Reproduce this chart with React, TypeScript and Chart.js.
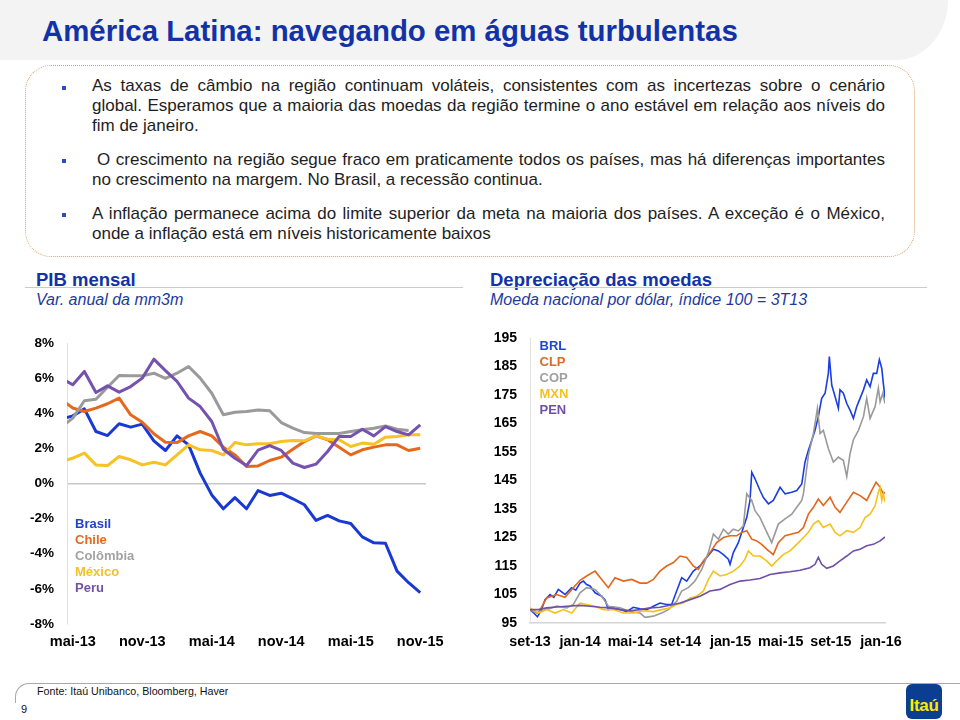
import React, { useEffect, useRef } from 'react';
import { Chart, registerables } from 'chart.js';

Chart.register(...registerables);

const FONT = '"Liberation Sans", Arial, Helvetica, sans-serif';

// ---------------- PIB mensal (left chart) ----------------
const PIB_TICK_LABELS = ['mai-13', 'nov-13', 'mai-14', 'nov-14', 'mai-15', 'nov-15'];
const PIB_TICK_MONTHS = [0, 6, 12, 18, 24, 30]; // months after mai-13
const PIB_FIRST_MONTH = -1; // first value of every series is abr-13
const PIB_X_MIN = -0.5;
const PIB_X_MAX = 30.5;
const PIB_Y_MIN = -8;
const PIB_Y_MAX = 8;
const PIB_Y_STEP = 2;

const pibBrasil = [3.67, 3.85, 4.25, 2.96, 2.73, 3.4, 3.21, 3.38, 2.43, 1.88, 2.71, 2.2, 0.59, -0.65, -1.44, -0.8, -1.44, -0.4, -0.68, -0.55, -0.87, -1.21, -2.1, -1.82, -2.13, -2.28, -3.04, -3.38, -3.4, -4.99, -5.65, -6.22];
const pibChile = [4.78, 4.3, 4.1, 4.29, 4.54, 4.86, 3.91, 3.49, 2.83, 2.35, 2.33, 2.71, 2.96, 2.71, 2.07, 1.63, 0.97, 1.0, 1.31, 1.5, 1.95, 2.39, 2.71, 2.49, 2.07, 1.63, 1.92, 2.07, 2.2, 2.2, 1.88, 2.01];
const pibColombia = [3.22, 3.72, 4.71, 4.8, 5.48, 6.15, 6.13, 6.13, 6.28, 5.98, 6.28, 6.66, 6.0, 5.14, 3.91, 4.06, 4.1, 4.19, 4.14, 3.47, 3.15, 2.9, 2.85, 2.85, 2.85, 2.96, 3.06, 3.15, 3.28, 3.09, 3.02];
const pibMexico = [1.26, 1.44, 1.73, 1.06, 1.02, 1.54, 1.35, 1.06, 1.21, 1.06, 1.63, 2.2, 1.92, 1.88, 1.63, 2.33, 2.2, 2.26, 2.26, 2.39, 2.45, 2.43, 2.71, 2.52, 2.49, 2.11, 2.3, 2.24, 2.64, 2.68, 2.77, 2.77];
const pibPeru = [6.0, 5.62, 6.38, 5.18, 5.56, 5.2, 5.52, 6.0, 7.08, 6.43, 5.81, 4.86, 4.38, 3.53, 1.95, 1.44, 1.02, 1.9, 2.16, 1.88, 1.16, 0.91, 1.1, 1.82, 2.68, 2.68, 3.09, 2.71, 3.24, 2.96, 2.77, 3.34];

const PIB_SERIES = [
  { name: 'Brasil', values: pibBrasil, color: '#1839d4', legend: '#2243cc' },
  { name: 'Chile', values: pibChile, color: '#e5681d', legend: '#e06a22' },
  { name: 'Colômbia', values: pibColombia, color: '#9a9a9a', legend: '#a3a3a3' },
  { name: 'México', values: pibMexico, color: '#f6c224', legend: '#f2c12e' },
  { name: 'Peru', values: pibPeru, color: '#7652b0', legend: '#7152a8' },
];

// ---------------- Depreciação das moedas (right chart) ----------------
const FX_TICK_LABELS = ['set-13', 'jan-14', 'mai-14', 'set-14', 'jan-15', 'mai-15', 'set-15', 'jan-16'];
const FX_TICK_MONTHS = [0, 4, 8, 12, 16, 20, 24, 28]; // months after 1-set-13
const FX_X_MAX = 28.32;
const FX_Y_MIN = 95;
const FX_Y_MAX = 195;
const FX_Y_STEP = 10;

// [months after 1-set-13, index 100 = 3T13]
const fxBRL: [number, number][] = [
  [0, 99.7], [0.3, 98.5], [0.59, 97.2], [0.9, 99.5], [1.2, 103.2], [1.6, 105], [1.9, 104], [2.26, 106.8], [2.79, 105], [3.32, 107.4],
  [3.65, 106.5], [3.99, 109], [4.26, 109.7], [4.52, 108.5], [4.79, 108], [5.19, 105.6], [5.72, 104.4], [6.0, 103], [6.25, 99.7], [6.65, 100.5],
  [7.18, 99.7], [7.71, 99], [8.24, 100.5], [8.78, 100], [9.31, 99.7], [9.84, 100.9], [10.37, 102], [10.9, 101.5], [11.3, 101.5], [11.7, 106.2],
  [12.1, 110.9], [12.5, 109.7], [13.03, 113.2], [13.56, 115], [14.1, 118], [14.63, 120.9], [15.03, 120.3], [15.43, 119], [15.82, 117.4], [15.96, 115.6],
  [16.22, 119.7], [16.62, 123.2], [17.02, 128.5], [17.29, 132], [17.55, 138], [17.69, 147.9], [17.95, 145.6], [18.35, 141.5], [18.62, 139], [19.02, 136.8],
  [19.41, 138], [19.95, 142.6], [20.35, 140.3], [20.88, 140.9], [21.28, 141.5], [21.68, 143.8], [21.94, 151.5], [22.21, 155.6], [22.47, 159], [22.74, 162.6],
  [23.0, 167.4], [23.27, 173.8], [23.54, 175.6], [23.8, 182.6], [23.88, 188.5], [24.07, 178.5], [24.34, 174.4], [24.6, 170.3], [24.73, 176.8], [25.0, 175.6],
  [25.27, 172], [25.53, 169.7], [25.8, 166.8], [26.06, 170.9], [26.33, 173.8], [26.6, 176.8], [26.86, 180.3], [27.13, 177.9], [27.39, 182.6], [27.66, 182.6],
  [27.87, 187.4], [28.06, 184.4], [28.19, 179], [28.32, 173.8],
];
const fxCLP: [number, number][] = [
  [0, 99.7], [0.66, 98.5], [1.33, 103.8], [2.13, 105], [2.79, 104], [3.46, 107.4], [3.99, 110], [4.52, 111.5], [5.19, 113.2], [5.72, 110.3],
  [6.25, 107.4], [6.78, 110.9], [7.45, 109.7], [8.11, 110.3], [8.78, 109], [9.31, 109], [9.84, 110.3], [10.37, 113.2], [10.9, 115], [11.44, 116.2],
  [11.97, 118.5], [12.5, 118], [13.03, 115], [13.43, 113.8], [13.83, 116.8], [14.36, 119.7], [14.89, 123.2], [15.43, 125], [15.96, 125.6], [16.49, 125.6],
  [16.89, 126.8], [17.29, 127.4], [17.69, 124.4], [18.09, 123.8], [18.48, 122.6], [18.88, 120.9], [19.41, 119], [19.81, 123.2], [20.35, 125.6], [20.88, 126.2],
  [21.41, 126.8], [21.81, 128.5], [22.21, 133.2], [22.61, 135.6], [23.0, 138.5], [23.4, 136.2], [23.94, 139.1], [24.34, 135.6], [24.73, 133.8], [25.27, 137.4],
  [25.8, 140.9], [26.33, 139.7], [26.86, 138], [27.26, 141.5], [27.61, 144.4], [27.93, 142.6], [28.19, 140.3], [28.32, 140.9],
];
const fxCOP: [number, number][] = [
  [0, 99.7], [0.53, 98.5], [1.33, 99.7], [2.13, 100.9], [2.93, 100.3], [3.46, 101.5], [3.99, 105.6], [4.52, 107.4], [5.19, 106.8], [5.72, 104.4],
  [6.25, 100.9], [7.18, 100.3], [7.98, 99], [8.78, 98.5], [9.18, 97], [9.84, 97.4], [10.51, 98.5], [11.04, 99.7], [11.7, 102.6], [12.1, 106.2],
  [12.63, 107.4], [13.16, 109.7], [13.7, 113.8], [14.23, 119.7], [14.63, 126.2], [15.03, 124.4], [15.43, 127.9], [15.82, 126.2], [16.22, 127.9], [16.62, 127.3],
  [17.02, 129.1], [17.29, 140.3], [17.69, 138], [17.95, 134.4], [18.35, 132], [18.88, 127], [19.28, 123.2], [19.81, 129.7], [20.35, 131.5], [20.88, 133.2],
  [21.28, 135.6], [21.68, 138], [21.81, 140.3], [22.21, 153.8], [22.61, 161.5], [22.93, 170.3], [23.14, 161.5], [23.4, 162.6], [23.8, 156.2], [24.2, 151.5],
  [24.6, 153.2], [25.0, 152], [25.27, 146.4], [25.53, 154.4], [25.8, 159.3], [26.2, 162.6], [26.6, 167.4], [26.86, 173.8], [27.13, 166.8], [27.53, 170.9],
  [27.79, 177.4], [27.93, 172.6], [28.14, 175.6], [28.32, 172],
];
const fxMXN: [number, number][] = [
  [0, 100.3], [0.66, 98.5], [1.33, 99.7], [2.0, 98.5], [2.66, 99.7], [3.32, 98.5], [3.99, 102], [4.52, 101.5], [5.19, 100.9], [5.85, 99.7],
  [6.65, 99.7], [7.45, 98.5], [8.24, 98.5], [9.04, 99.3], [9.84, 99], [10.51, 99.7], [11.17, 100.3], [11.7, 101.5], [12.23, 102], [12.77, 103.8],
  [13.3, 104.4], [13.83, 106.2], [14.23, 110.3], [14.63, 113.2], [15.16, 111.5], [15.69, 112], [16.22, 113.2], [16.76, 115], [17.15, 117.4], [17.42, 120.3],
  [17.82, 118.5], [18.35, 118.5], [18.88, 116.8], [19.28, 115], [19.68, 116.8], [20.21, 119], [20.74, 120.3], [21.28, 122.6], [21.68, 124.4], [22.21, 126.8],
  [22.61, 129.7], [23.0, 130.9], [23.4, 128.5], [23.94, 129.7], [24.34, 126.8], [24.73, 125.6], [25.27, 127.4], [25.8, 126.8], [26.33, 128.5], [26.73, 132],
  [27.13, 133.2], [27.53, 136.2], [27.79, 140.9], [27.93, 142.6], [28.06, 138], [28.19, 140.3], [28.32, 137.4],
];
const fxPEN: [number, number][] = [
  [0, 99.7], [0.66, 99.7], [1.33, 100.3], [2.13, 100.6], [2.93, 100.9], [3.99, 101.2], [4.79, 100.9], [5.59, 100.5], [6.38, 100.3], [7.18, 99.7],
  [7.98, 99.3], [8.78, 99.7], [9.57, 100.3], [10.37, 100.5], [11.17, 101.2], [11.97, 102], [12.77, 103.2], [13.56, 104.4], [14.36, 106.2], [15.16, 106.8],
  [15.96, 108.5], [16.76, 109.7], [17.55, 110.1], [18.35, 110.6], [19.15, 112], [19.95, 112.6], [20.74, 113], [21.54, 113.5], [22.34, 114.4], [22.74, 115.6],
  [23.0, 118], [23.27, 115.6], [23.67, 114.2], [24.2, 115], [24.73, 116.8], [25.27, 118.5], [25.8, 120.3], [26.33, 120.9], [26.86, 122.1], [27.39, 122.6],
  [27.93, 123.8], [28.32, 125.2],
];

const FX_SERIES = [
  { name: 'BRL', values: fxBRL, color: '#1a3ee0', legend: '#2247d8' },
  { name: 'CLP', values: fxCLP, color: '#e2661b', legend: '#e2691f' },
  { name: 'COP', values: fxCOP, color: '#9a9a9a', legend: '#a0a0a0' },
  { name: 'MXN', values: fxMXN, color: '#f5c21b', legend: '#f3c21d' },
  { name: 'PEN', values: fxPEN, color: '#6f4fa8', legend: '#6f50a8' },
];

// ---------------- chart configs ----------------
const tickFont = (size: number) => ({ family: FONT, size, weight: 'bold' as const });
const CLEAR = 'rgba(0,0,0,0)';

function pibConfig(): any {
  return {
    type: 'line',
    data: {
      datasets: PIB_SERIES.slice().reverse().map((s) => ({
        label: s.name,
        data: s.values.map((v, i) => ({ x: PIB_FIRST_MONTH + i, y: v })),
        borderColor: s.color,
        borderWidth: 3,
        pointRadius: 0,
        tension: 0,
        fill: false,
        clip: 0,
        borderJoinStyle: 'round',
      })),
    },
    options: {
      responsive: false,
      animation: false,
      devicePixelRatio: 1,
      events: [],
      layout: { padding: { top: 13, right: 44, left: 0, bottom: 0 } },
      plugins: { legend: { display: false }, tooltip: { enabled: false } },
      scales: {
        x: {
          type: 'linear',
          min: PIB_X_MIN,
          max: PIB_X_MAX,
          afterBuildTicks: (s: any) => {
            s.ticks = PIB_TICK_MONTHS.map((v) => ({ value: v }));
          },
          afterFit: (s: any) => {
            s.height = 41;
          },
          grid: { display: false, drawTicks: false },
          border: { display: false },
          ticks: {
            autoSkip: false,
            maxRotation: 0,
            padding: 9,
            color: '#000',
            font: tickFont(14.5),
            callback: (_v: any, i: number) => PIB_TICK_LABELS[i],
          },
        },
        y: {
          min: PIB_Y_MIN,
          max: PIB_Y_MAX,
          afterFit: (s: any) => {
            s.width = 67;
          },
          ticks: {
            stepSize: PIB_Y_STEP,
            padding: 0,
            color: '#000',
            font: tickFont(13.5),
            callback: (v: any) => `${v}%`,
          },
          grid: {
            drawTicks: true,
            tickLength: 13,
            tickColor: CLEAR,
            lineWidth: 1.5,
            color: (ctx: any) => (ctx.tick && ctx.tick.value === 0 ? '#c8c8c8' : CLEAR),
          },
          border: { display: true, color: '#e0e0e0', width: 1 },
        },
      },
    },
  };
}

function fxConfig(): any {
  return {
    type: 'line',
    data: {
      datasets: FX_SERIES.slice().reverse().map((s) => ({
        label: s.name,
        data: s.values.map(([x, y]) => ({ x, y })),
        borderColor: s.color,
        borderWidth: 1.6,
        pointRadius: 0,
        tension: 0,
        fill: false,
      })),
    },
    options: {
      responsive: false,
      animation: false,
      devicePixelRatio: 1,
      events: [],
      layout: { padding: { top: 13, right: 75, left: 0, bottom: 0 } },
      plugins: { legend: { display: false }, tooltip: { enabled: false } },
      scales: {
        x: {
          type: 'linear',
          min: 0,
          max: FX_X_MAX,
          afterBuildTicks: (s: any) => {
            s.ticks = FX_TICK_MONTHS.map((v) => ({ value: v }));
          },
          afterFit: (s: any) => {
            s.height = 42;
          },
          grid: { display: false, drawTicks: false },
          border: { display: true, color: '#d4d4d4', width: 1.5 },
          ticks: {
            autoSkip: false,
            maxRotation: 0,
            padding: 10,
            color: '#000',
            font: tickFont(14.3),
            callback: (_v: any, i: number) => FX_TICK_LABELS[i],
          },
        },
        y: {
          min: FX_Y_MIN,
          max: FX_Y_MAX,
          afterFit: (s: any) => {
            s.width = 55;
          },
          ticks: {
            stepSize: FX_Y_STEP,
            padding: 0,
            color: '#000',
            font: tickFont(14),
          },
          grid: { display: true, drawTicks: true, tickLength: 13, tickColor: CLEAR, color: CLEAR },
          border: { display: true, color: '#e2e2e2', width: 1 },
        },
      },
    },
  };
}

function ChartCanvas({ left, top, width, height, config }: { left: number; top: number; width: number; height: number; config: () => any }) {
  const ref = useRef<HTMLCanvasElement>(null);
  useEffect(() => {
    const chart = new Chart(ref.current as HTMLCanvasElement, config());
    return () => chart.destroy();
  }, []);
  return (
    <canvas
      ref={ref}
      width={width}
      height={height}
      style={{ position: 'absolute', left, top, width, height }}
    />
  );
}

function Txt({ x, y, size, children, style }: { x: number; y: number; size: number; children: React.ReactNode; style?: React.CSSProperties }) {
  return (
    <div
      style={{
        position: 'absolute',
        left: x,
        top: y,
        fontSize: size,
        lineHeight: `${size}px`,
        whiteSpace: 'nowrap',
        ...style,
      }}
    >
      {children}
    </div>
  );
}

const BLUE = '#1232a8';

type Line = { text: string; top: number; justify: boolean; indent?: number };
const PARAGRAPHS: { bulletTop: number; lines: Line[] }[] = [
  {
    bulletTop: 85.7,
    lines: [
      { text: 'As taxas de câmbio na região continuam voláteis, consistentes com as incertezas sobre o cenário', top: 76, justify: true },
      { text: 'global. Esperamos que a maioria das moedas da região termine o ano estável em relação aos níveis do', top: 96, justify: true },
      { text: 'fim de janeiro.', top: 115.5, justify: false },
    ],
  },
  {
    bulletTop: 159,
    lines: [
      { text: 'O crescimento na região segue fraco em praticamente todos os países, mas há diferenças importantes', top: 149.5, justify: true, indent: 5 },
      { text: 'no crescimento na margem. No Brasil, a recessão continua.', top: 169.5, justify: false },
    ],
  },
  {
    bulletTop: 213,
    lines: [
      { text: 'A inflação permanece acima do limite superior da meta na maioria dos países. A exceção é o México,', top: 203.5, justify: true },
      { text: 'onde a inflação está em níveis historicamente baixos', top: 223.5, justify: false },
    ],
  },
];

export default function App() {
  return (
    <div
      style={{
        position: 'absolute',
        left: 0,
        top: 0,
        width: 960,
        height: 720,
        overflow: 'hidden',
        background: '#ffffff',
        fontFamily: FONT,
        color: '#1e1e1e',
      }}
    >
      {/* header band */}
      <div
        style={{
          position: 'absolute',
          left: 0,
          top: 0,
          width: 948,
          height: 60,
          background: '#f3f3f3',
          borderBottomRightRadius: '52px 60px',
        }}
      />
      <Txt x={42} y={15.5} size={29.4} style={{ fontWeight: 'bold', color: BLUE }}>
        América Latina: navegando em águas turbulentas
      </Txt>

      {/* text box */}
      <div
        style={{
          position: 'absolute',
          left: 25,
          top: 65,
          width: 890,
          height: 192,
          boxSizing: 'border-box',
          border: '1.5px dotted #d9a066',
          borderRadius: 26,
        }}
      />
      {PARAGRAPHS.map((p, pi) => (
        <React.Fragment key={pi}>
          <div style={{ position: 'absolute', left: 62, top: p.bulletTop, width: 4, height: 4, background: '#2a4cc0' }} />
          {p.lines.map((l, li) => {
            const indent = l.indent || 0;
            return (
              <div
                key={li}
                style={{
                  position: 'absolute',
                  left: 92 + indent,
                  top: l.top,
                  width: 793 - indent,
                  fontSize: 17,
                  lineHeight: '20px',
                  whiteSpace: 'nowrap',
                  textAlign: l.justify ? 'justify' : 'left',
                  textAlignLast: l.justify ? 'justify' : 'left',
                }}
              >
                {l.text}
              </div>
            );
          })}
        </React.Fragment>
      ))}

      {/* section headers */}
      <Txt x={36} y={270.5} size={18.5} style={{ fontWeight: 'bold', color: BLUE }}>PIB mensal</Txt>
      <div style={{ position: 'absolute', left: 25, top: 287, width: 438, height: 1, background: '#c9cbd4' }} />
      <Txt x={36} y={292} size={16} style={{ fontStyle: 'italic', color: '#1d3a9e' }}>Var. anual da mm3m</Txt>

      <Txt x={490} y={270.5} size={18.5} style={{ fontWeight: 'bold', color: BLUE }}>Depreciação das moedas</Txt>
      <div style={{ position: 'absolute', left: 490, top: 287, width: 437, height: 1, background: '#c9cbd4' }} />
      <Txt x={490} y={292} size={16} style={{ fontStyle: 'italic', color: '#1d3a9e' }}>Moeda nacional por dólar, índice 100 = 3T13</Txt>

      {/* charts */}
      <ChartCanvas left={0} top={330} width={470} height={335} config={pibConfig} />
      <ChartCanvas left={475} top={325} width={485} height={340} config={fxConfig} />

      {/* in-chart legends */}
      {PIB_SERIES.map((s, i) => (
        <Txt key={s.name} x={75} y={517 + 16 * i} size={13} style={{ fontWeight: 'bold', color: s.legend }}>
          {s.name}
        </Txt>
      ))}
      {FX_SERIES.map((s, i) => (
        <Txt key={s.name} x={539.5} y={338.5 + 16 * i} size={13} style={{ fontWeight: 'bold', color: s.legend }}>
          {s.name}
        </Txt>
      ))}

      {/* footer */}
      <div
        style={{
          position: 'absolute',
          left: 15,
          top: 683,
          width: 960,
          height: 20,
          boxSizing: 'border-box',
          borderTop: '1.5px solid #a8a8a8',
          borderLeft: '1.5px solid #a8a8a8',
          borderTopLeftRadius: 14,
        }}
      />
      <Txt x={37} y={685.6} size={10.7} style={{ color: '#111' }}>Fonte: Itaú Unibanco, Bloomberg, Haver</Txt>
      <Txt x={21} y={703.5} size={11} style={{ color: '#111' }}>9</Txt>
      <div
        style={{
          position: 'absolute',
          left: 906,
          top: 684,
          width: 36,
          height: 35,
          background: '#0b3d91',
          borderRadius: 6,
        }}
      >
        <div
          style={{
            position: 'absolute',
            left: 0,
            top: 13,
            width: 36,
            textAlign: 'center',
            fontSize: 17,
            lineHeight: '17px',
            fontWeight: 'bold',
            color: '#ffe800',
            letterSpacing: -0.3,
          }}
        >
          Itaú
        </div>
      </div>
    </div>
  );
}
